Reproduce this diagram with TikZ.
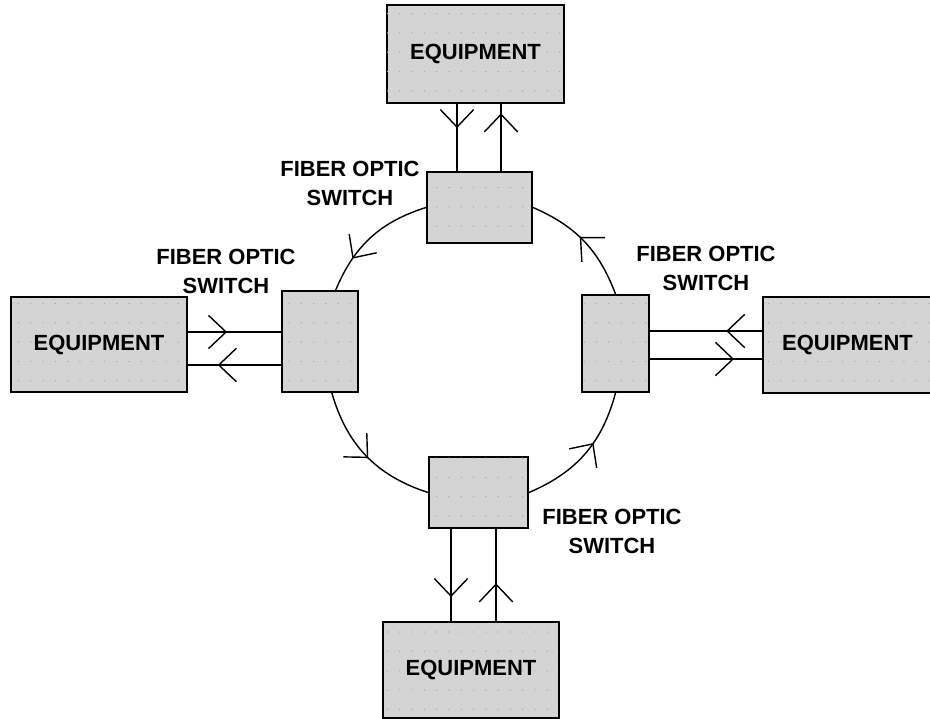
\documentclass[tikz,border=0pt]{standalone}
\usepackage{fontspec}
\setmainfont{Liberation Sans}
\usetikzlibrary{calc,arrows.meta,decorations.markings,patterns}
\definecolor{boxgray}{RGB}{212,212,212}
\pgfdeclarepatternformonly{speckle}{\pgfqpoint{-1pt}{-1pt}}{\pgfqpoint{8pt}{12pt}}{\pgfqpoint{7pt}{11pt}}{%
  \pgfpathcircle{\pgfqpoint{3.5pt}{5.5pt}}{0.4pt}\pgfusepath{fill}}

\begin{document}
\begin{tikzpicture}[x=0.02cm,y=-0.02cm,
  dims/.style 2 args={minimum width=#1*0.02cm,minimum height=#2*0.02cm},
  unit/.style={draw,line width=1.1pt,fill=boxgray,inner sep=0pt,
    postaction={pattern=speckle,pattern color=gray!70},
    font=\fontsize{12.5}{16.5}\selectfont\bfseries},
  swtext/.style={align=center,inner sep=0pt,font=\fontsize{12.5}{16.5}\selectfont\bfseries},
  fibre/.style={line width=0.8pt,postaction={decorate},
    decoration={markings,mark=at position #1 with {\arrow{Straight Barb[length=10pt,width=19pt,line width=0.8pt]}}}}]
  \useasboundingbox (0,0) rectangle (930,719);

  % switches on the ring
  \node[unit,dims={105}{71}] (tsw) at (479.5,207.5) {};
  \node[unit,dims={76}{101}] (lsw) at (320,341.5) {};
  \node[unit,dims={67}{97}] (rsw) at (615.5,343.5) {};
  \node[unit,dims={99}{71}] (bsw) at (478.5,492.5) {};

  % equipment
  \node[unit,dims={177}{98}] (teq) at (475.5,54) {EQUIPMENT};
  \node[unit,dims={176}{95}] (leq) at (99,344.5) {EQUIPMENT};
  \node[unit,dims={169}{96}] (req) at (847.5,345) {EQUIPMENT};
  \node[unit,dims={176}{96}] (beq) at (471,670) {EQUIPMENT};

  % ring
  \draw[fibre=0.72] (tsw.west) to[bend right=25] (lsw.73);
  \draw[fibre=0.52] (lsw.283) to[bend right=28] (bsw.west);
  \draw[fibre=0.6] (bsw.east) to[bend right=26] (rsw.south);
  \draw[fibre=0.55] (rsw.north) to[bend right=23] (tsw.east);

  % links to the equipment
  \coordinate (t1) at ($(tsw.north)+(-22.5,0)$);
  \coordinate (t2) at ($(tsw.north)+(21.5,0)$);
  \draw[fibre=0.36] (t1 |- teq.south) -- (t1);
  \draw[fibre=0.86] (t2) -- (t2 |- teq.south);

  \coordinate (l1) at ($(lsw.west)+(0,-9.5)$);
  \coordinate (l2) at ($(lsw.west)+(0,23.5)$);
  \draw[fibre=0.42] (l1 -| leq.east) -- (l1);
  \draw[fibre=0.68] (l2) -- (l2 -| leq.east);

  \coordinate (r1) at ($(rsw.east)+(0,-12.5)$);
  \coordinate (r2) at ($(rsw.east)+(0,15.5)$);
  \draw[fibre=0.32] (r1 -| req.west) -- (r1);
  \draw[fibre=0.75] (r2) -- (r2 -| req.west);

  \coordinate (b1) at ($(bsw.south)+(-27.5,0)$);
  \coordinate (b2) at ($(bsw.south)+(17.5,0)$);
  \draw[fibre=0.74] (b1) -- (b1 |- beq.north);
  \draw[fibre=0.41] (b2 |- beq.north) -- (b2);

  % labels
  \node[swtext] (ttag) at (350,183.5) {FIBER OPTIC\\SWITCH};
  \node[swtext] (ltag) at (226,271) {FIBER OPTIC\\SWITCH};
  \node[swtext] (rtag) at (706,268) {FIBER OPTIC\\SWITCH};
  \node[swtext] (btag) at (612,531.5) {FIBER OPTIC\\SWITCH};
\end{tikzpicture}
\end{document}
